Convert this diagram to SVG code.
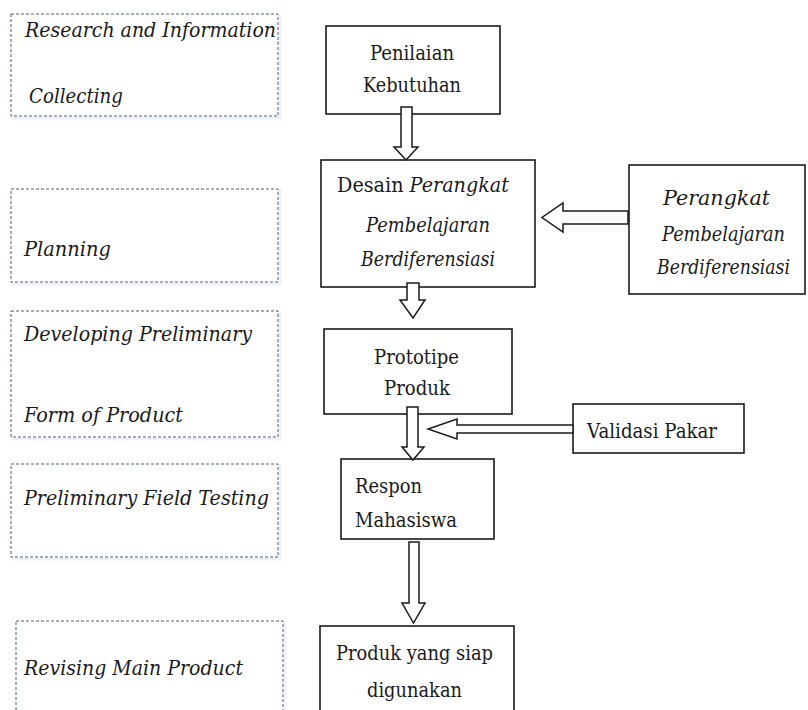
<svg xmlns="http://www.w3.org/2000/svg" width="808" height="710" viewBox="0 0 808 710">
<defs>
<style>
.stage{fill:#ffffff;stroke:#4f5f78;stroke-width:1;stroke-dasharray:3 2}
.shadow{fill:none;stroke:#eef1f6;stroke-width:3}
.box{fill:#ffffff;stroke:#1a1a1a;stroke-width:1.6}
.arr{fill:#ffffff;stroke:#1a1a1a;stroke-width:1.5;stroke-linejoin:miter}
text{font-family:"DejaVu Serif","Liberation Serif",serif;font-size:21px;fill:#1a1a1a}
.it{font-style:italic}
.sm{font-size:19.5px}
</style>
</defs>
<rect width="808" height="710" fill="#ffffff"/>

<g id="stage-research">
<rect class="shadow" x="13" y="16" width="267" height="102"/>
<rect class="stage" x="11" y="14" width="267" height="102"/>
<text class="it" x="25" y="37" textLength="251" lengthAdjust="spacingAndGlyphs">Research and Information</text>
<text class="it" x="29" y="103" textLength="94" lengthAdjust="spacingAndGlyphs">Collecting</text>
</g>
<g id="stage-planning">
<rect class="shadow" x="13" y="191" width="267" height="93"/>
<rect class="stage" x="11" y="189" width="267" height="93"/>
<text class="it" x="24" y="256" textLength="87" lengthAdjust="spacingAndGlyphs">Planning</text>
</g>
<g id="stage-developing">
<rect class="shadow" x="13" y="313" width="267" height="126"/>
<rect class="stage" x="11" y="311" width="267" height="126"/>
<text class="it" x="24" y="341" textLength="228" lengthAdjust="spacingAndGlyphs">Developing Preliminary</text>
<text class="it" x="24" y="422" textLength="159" lengthAdjust="spacingAndGlyphs">Form of Product</text>
</g>
<g id="stage-testing">
<rect class="shadow" x="13" y="466" width="267" height="93"/>
<rect class="stage" x="11" y="464" width="267" height="93"/>
<text class="it" x="24" y="505" textLength="245" lengthAdjust="spacingAndGlyphs">Preliminary Field Testing</text>
</g>
<g id="stage-revising">
<rect class="shadow" x="18" y="623" width="267" height="100"/>
<rect class="stage" x="16" y="621" width="267" height="100"/>
<text class="it" x="24" y="675" textLength="219" lengthAdjust="spacingAndGlyphs">Revising Main Product</text>
</g>

<g id="node-penilaian">
<rect class="box" x="326" y="26" width="174" height="88"/>
<text x="370" y="60" textLength="84" lengthAdjust="spacingAndGlyphs">Penilaian</text>
<text x="363" y="92" textLength="98" lengthAdjust="spacingAndGlyphs">Kebutuhan</text>
</g>
<g id="node-desain">
<rect class="box" x="321" y="160" width="214" height="127"/>
<text x="337" y="192" textLength="172" lengthAdjust="spacingAndGlyphs">Desain <tspan class="it">Perangkat</tspan></text>
<text class="it" x="366" y="232" textLength="124" lengthAdjust="spacingAndGlyphs">Pembelajaran</text>
<text class="it" x="361" y="266" textLength="134" lengthAdjust="spacingAndGlyphs">Berdiferensiasi</text>
</g>
<g id="node-perangkat">
<rect class="box" x="629" y="165" width="176" height="129"/>
<text class="it sm" x="663" y="205" textLength="107" lengthAdjust="spacingAndGlyphs">Perangkat</text>
<text class="it sm" x="662" y="241" textLength="123" lengthAdjust="spacingAndGlyphs">Pembelajaran</text>
<text class="it sm" x="657" y="274" textLength="133" lengthAdjust="spacingAndGlyphs">Berdiferensiasi</text>
</g>
<g id="node-prototipe">
<rect class="box" x="324" y="329" width="188" height="85"/>
<text x="374" y="364" textLength="85" lengthAdjust="spacingAndGlyphs">Prototipe</text>
<text x="384" y="395" textLength="66" lengthAdjust="spacingAndGlyphs">Produk</text>
</g>
<g id="node-validasi">
<rect class="box" x="573" y="404" width="171" height="49"/>
<text x="587" y="438" textLength="130" lengthAdjust="spacingAndGlyphs">Validasi Pakar</text>
</g>
<g id="node-respon">
<rect class="box" x="341" y="459" width="153" height="80"/>
<text x="355" y="493" textLength="67" lengthAdjust="spacingAndGlyphs">Respon</text>
<text x="355" y="527" textLength="102" lengthAdjust="spacingAndGlyphs">Mahasiswa</text>
</g>
<g id="node-produk">
<rect class="box" x="320" y="626" width="194" height="100"/>
<text x="336" y="660" textLength="157" lengthAdjust="spacingAndGlyphs">Produk yang siap</text>
<text x="367" y="697" textLength="95" lengthAdjust="spacingAndGlyphs">digunakan</text>
</g>

<g id="connectors">
<polygon class="arr" points="401,107 412,107 412,147 418,147 406,160 394,147 401,147"/>
<polygon class="arr" points="407,283 419,283 419,300 425,300 413,318 400,300 407,300"/>
<polygon class="arr" points="628,211 563,211 563,203 542,217.5 563,232 563,224 628,224"/>
<polygon class="arr" points="407,407 418,407 418,447 424,447 413,460 402,447 407,447"/>
<polygon class="arr" points="573,425 457,425 457,419 428,429 457,439 457,433 573,433"/>
<polygon class="arr" points="409,542 419,542 419,603 425,603 413.5,623 402,603 409,603"/>
</g>
</svg>
